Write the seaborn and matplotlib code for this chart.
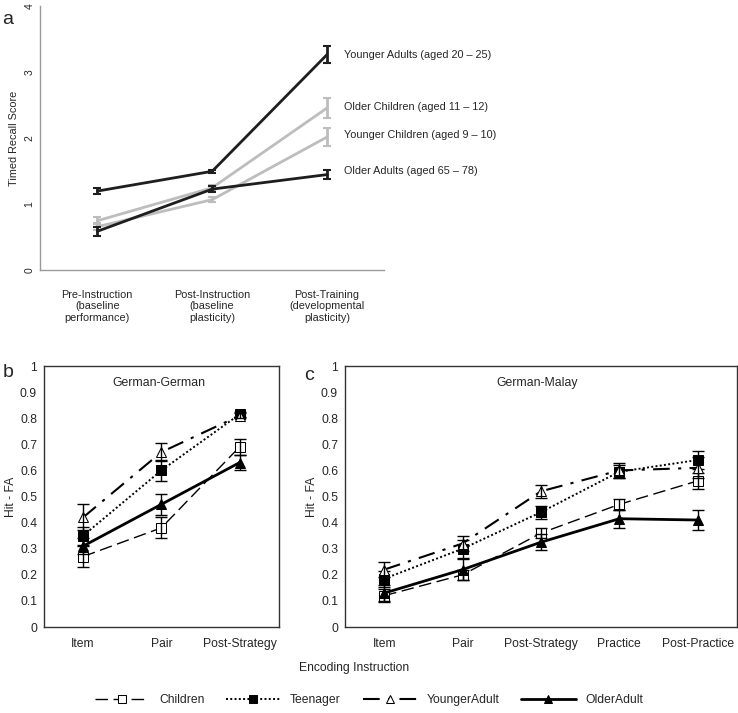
import numpy as np
import pandas as pd
import matplotlib
matplotlib.use('Agg')
import matplotlib.pyplot as plt
import seaborn as sns

sns.set_style('white')
plt.rcParams['font.family'] = ['Liberation Sans', 'DejaVu Sans']

# panel a data
a_phases = ['Pre-Instruction\n(baseline\nperformance)',
            'Post-Instruction\n(baseline\nplasticity)',
            'Post-Training\n(developmental\nplasticity)']
a_groups = ['Younger Adults (aged 20 \u2013 25)', 'Older Children (aged 11 \u2013 12)',
            'Younger Children (aged 9 \u2013 10)', 'Older Adults (aged 65 \u2013 78)']
a_means = [[1.20, 1.50, 3.27],
           [0.75, 1.25, 2.46],
           [0.66, 1.07, 2.02],
           [0.59, 1.23, 1.45]]
a_err = [[0.04, 0.02, 0.13],
         [0.05, 0.04, 0.15],
         [0.05, 0.04, 0.14],
         [0.07, 0.04, 0.07]]
a_label_y = [3.27, 2.47, 2.05, 1.50]

# panels b and c data
groups = ['Children', 'Teenager', 'YoungerAdult', 'OlderAdult']
b_cond = ['Item', 'Pair', 'Post-Strategy']
b_means = [[0.27, 0.38, 0.69],
           [0.35, 0.60, 0.815],
           [0.42, 0.67, 0.81],
           [0.31, 0.47, 0.63]]
b_err = [[0.04, 0.04, 0.03],
         [0.035, 0.04, 0.01],
         [0.05, 0.035, 0.01],
         [0.03, 0.04, 0.03]]
c_cond = ['Item', 'Pair', 'Post-Strategy', 'Practice', 'Post-Practice']
c_means = [[0.12, 0.20, 0.36, 0.47, 0.56],
           [0.185, 0.30, 0.44, 0.595, 0.64],
           [0.22, 0.32, 0.52, 0.60, 0.61],
           [0.13, 0.22, 0.325, 0.415, 0.41]]
c_err = [[0.025, 0.02, 0.02, 0.02, 0.03],
         [0.03, 0.035, 0.025, 0.025, 0.035],
         [0.03, 0.03, 0.025, 0.03, 0.04],
         [0.03, 0.04, 0.03, 0.035, 0.04]]

styles = {
    'Children': dict(ls=(0, (9, 4)), lw=1.0, marker='s', mfc='white', ms=7),
    'Teenager': dict(ls=(0, (1, 1.2)), lw=1.4, marker='s', mfc='black', ms=7),
    'YoungerAdult': dict(ls=(0, (8, 4, 1.5, 4)), lw=1.5, marker='^', mfc='white', ms=7),
    'OlderAdult': dict(ls='-', lw=2.0, marker='^', mfc='black', ms=7),
}

fig = plt.figure(figsize=(7.38, 7.13), dpi=100)

# ---- panel a
ax_a = fig.add_axes([0.054, 0.621, 0.467, 0.370])
a_colors = ['#1e1e1e', '#bdbdbd', '#bdbdbd', '#1e1e1e']
for g, m, e, col in zip(a_groups, a_means, a_err, a_colors):
    df = pd.DataFrame({'x': range(3), 'y': m})
    sns.lineplot(data=df, x='x', y='y', ax=ax_a, color=col, lw=2.0, errorbar=None)
    ax_a.errorbar(range(3), m, yerr=e, fmt='none', ecolor=col, elinewidth=2,
                  capsize=3, capthick=1.5)
for g, yy in zip(a_groups, a_label_y):
    ax_a.text(2.15, yy, g, fontsize=7.8, va='center', ha='left', clip_on=False)
ax_a.set_xlim(-0.5, 2.5)
ax_a.set_ylim(0, 4)
ax_a.set_xticks(range(3))
ax_a.set_xticklabels(a_phases, fontsize=7.8)
ax_a.set_yticks(range(5))
ax_a.set_yticklabels([str(i) for i in range(5)], rotation=90, va='center', fontsize=7.5)
ax_a.tick_params(axis='x', length=0, pad=14)
ax_a.tick_params(axis='y', length=2, color='#999999', pad=2)
for s in ['top', 'right']:
    ax_a.spines[s].set_visible(False)
for s in ['left', 'bottom']:
    ax_a.spines[s].set_color('#999999')
    ax_a.spines[s].set_linewidth(1.0)
ax_a.set_xlabel('')
ax_a.set_ylabel('Timed Recall Score', fontsize=7.8)
ax_a.yaxis.set_label_coords(-0.06, 0.5)
fig.text(0.003, 0.985, 'a', fontsize=14, va='top')


def panel(ax, conds, means, errs, title):
    n = len(conds)
    for g, m, e in zip(groups, means, errs):
        st = styles[g]
        df = pd.DataFrame({'x': range(n), 'y': m})
        sns.lineplot(data=df, x='x', y='y', ax=ax, color='black', linestyle=st['ls'],
                     lw=st['lw'], marker=st['marker'], markerfacecolor=st['mfc'],
                     markeredgecolor='black', markersize=st['ms'], errorbar=None,
                     label=g)
        ax.errorbar(range(n), m, yerr=e, fmt='none', ecolor='black', elinewidth=1,
                    capsize=4, capthick=1)
    ax.set_xlim(-0.5, n - 0.5)
    ax.set_ylim(0, 1)
    ax.set_xticks(np.arange(n + 1) - 0.5)
    ax.set_xticklabels([])
    ax.set_xticks(range(n), minor=True)
    ax.set_xticklabels(conds, minor=True, fontsize=8.7)
    ax.tick_params(axis='x', which='major', length=6, width=1, color='#333333', direction='out')
    ax.tick_params(axis='x', which='minor', length=0, pad=8)
    ax.set_yticks(np.round(np.arange(0, 1.01, 0.1), 1))
    ax.set_yticklabels(['0'] + ['%.1f' % v for v in np.arange(0.1, 0.95, 0.1)] + ['1'],
                       fontsize=8.7)
    ax.tick_params(axis='y', length=4, width=1, color='#333333', direction='out', pad=1)
    for s in ax.spines.values():
        s.set_visible(True)
        s.set_color('#333333')
        s.set_linewidth(1.0)
    ax.set_xlabel('')
    ax.set_ylabel('Hit - FA', fontsize=8.7, labelpad=2)
    ax.text(0.49, 0.935, title, transform=ax.transAxes, ha='center', va='center', fontsize=8.8)
    ax.legend().remove()


ax_b = fig.add_axes([0.0596, 0.1206, 0.318, 0.366])
panel(ax_b, b_cond, b_means, b_err, 'German-German')
fig.text(0.003, 0.49, 'b', fontsize=14, va='top')

ax_c = fig.add_axes([0.4675, 0.1206, 0.531, 0.366])
panel(ax_c, c_cond, c_means, c_err, 'German-Malay')
fig.text(0.412, 0.485, 'c', fontsize=14, va='top')

fig.text(0.48, 0.063, 'Encoding Instruction', ha='center', va='center', fontsize=8.7)

handles, labels = ax_c.get_legend_handles_labels()
fig.legend(handles, labels, loc='center', bbox_to_anchor=(0.5, 0.018), ncol=4,
           frameon=False, fontsize=8.7, handlelength=4.5, columnspacing=1.8,
           markerscale=0.75)

fig.savefig('out.png', dpi=100)
